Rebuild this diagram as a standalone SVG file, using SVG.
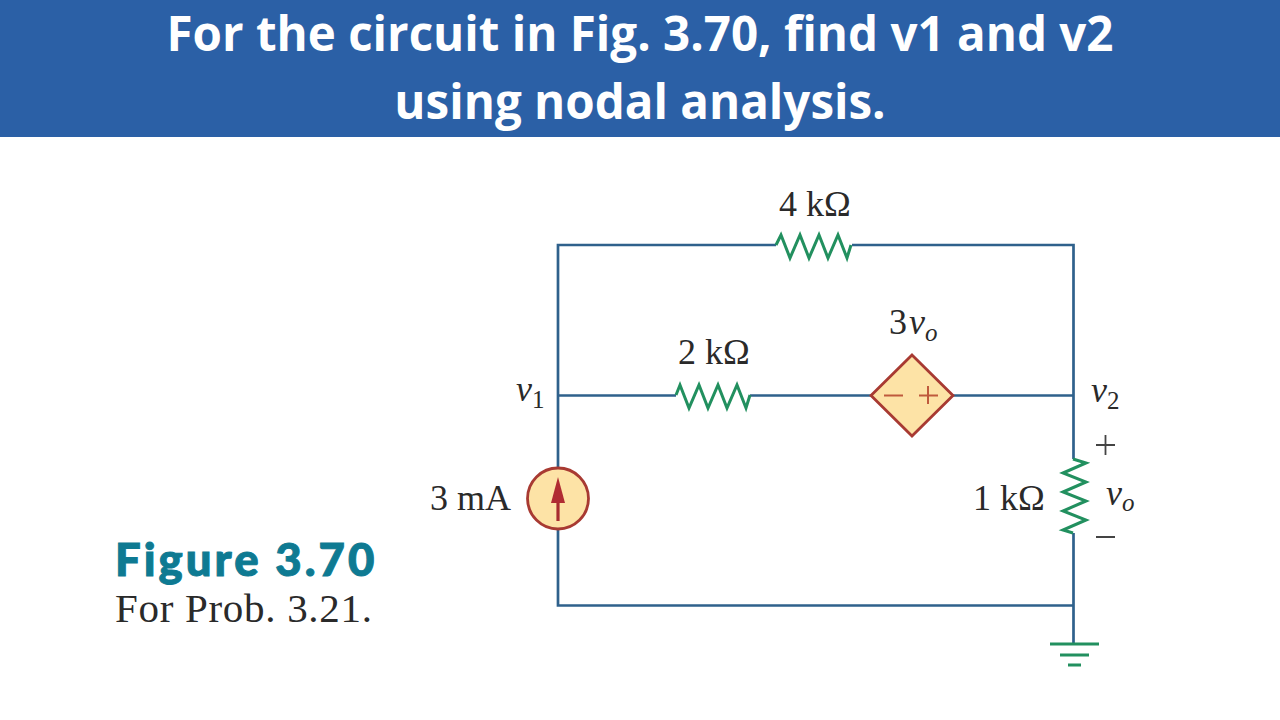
<svg xmlns="http://www.w3.org/2000/svg" width="1280" height="720" viewBox="0 0 1280 720">
<style>
.w{fill:none;stroke:#2f618c;stroke-width:2.700}
.r{fill:none;stroke:#22905f;stroke-width:3}
.t{font-family:"Liberation Serif",serif;font-size:36px;fill:#2a2a2a}
.i{font-style:italic}
.s{font-size:25px}
.h{font-family:"Open Sans","Noto Sans",sans-serif;font-weight:700;font-size:47.500px;fill:#fff;text-anchor:middle}
.sym{fill:none;stroke:#bf5a3c;stroke-width:2}
.src{fill:#fde3a6;stroke:#a83a32;stroke-width:2.800}
.pm{fill:none;stroke:#444;stroke-width:1.800}
.cap{font-size:41px;letter-spacing:0.700px}
</style>
<rect width="1280" height="720" fill="#fff"/>
<g id="banner">
<rect width="1280" height="137" fill="#2b60a6"/>
<text class="h" x="640" y="51">For the circuit in Fig. 3.70, find v1 and v2</text>
<text class="h" x="640" y="119">using nodal analysis.</text>
</g>
<g id="connectors">
<path class="w" d="M776 245H558V468M852 245H1073.500V459M558 395.500H676M750 395.500H872M952 395.500H1073.500M558 529V605.500H1073.500M1073.500 533V643"/>
</g>
<g id="r-4k">
<path class="r" d="M776 245L781 235L790 258L800 235L809 258L819 235L828 258L838 235L847 258L851 245"/>
<text class="t" x="779" y="216">4 kΩ</text>
</g>
<g id="r-2k">
<path class="r" d="M676 395L680 385L689 408L699 385L708 408L718 385L727 408L737 385L746 408L750 395"/>
<text class="t" x="678" y="364">2 kΩ</text>
</g>
<g id="r-1k">
<path class="r" d="M1073 459L1086 463L1063 473L1086 482L1063 492L1086 501L1063 511L1086 520L1063 530L1073 533"/>
<text class="t" x="973" y="510">1 kΩ</text>
</g>
<g id="vs">
<path class="src" d="M912 355L953 395.500L912 436L871 395.500Z"/>
<path class="sym" d="M884 395.500H903M919 395.500H938M928 386V404"/>
<text class="t" x="889" y="334">3<tspan class="i" dx="2">v</tspan><tspan class="i s" dy="7">o</tspan></text>
</g>
<g id="is">
<circle class="src" cx="558" cy="498.500" r="30.500"/>
<path d="M558 521V494" stroke="#a82c30" stroke-width="3.200" fill="none"/>
<path d="M558 477L565 503H551Z" fill="#b02c33"/>
<text class="t" x="430" y="510">3 mA</text>
</g>
<g id="ground">
<path class="r" d="M1050 644H1099M1060 655H1089M1068 665H1081"/>
</g>
<g id="labels">
<text class="t" x="516" y="401"><tspan class="i">v</tspan><tspan class="s" dy="7">1</tspan></text>
<text class="t" x="1091" y="402"><tspan class="i">v</tspan><tspan class="s" dy="7">2</tspan></text>
<path class="pm" d="M1096 445H1115M1105.500 435V455M1096 537H1115"/>
<text class="t i" x="1106" y="505">v<tspan class="s" dy="6">o</tspan></text>
<text x="115" y="576" font-family="Lato,'Open Sans',sans-serif" font-weight="900" font-size="45.500" letter-spacing="3" fill="#0e7a92" stroke="#0e7a92" stroke-width="1">Figure 3.70</text>
<text class="t cap" x="115" y="622">For Prob. 3.21.</text>
</g>
</svg>
